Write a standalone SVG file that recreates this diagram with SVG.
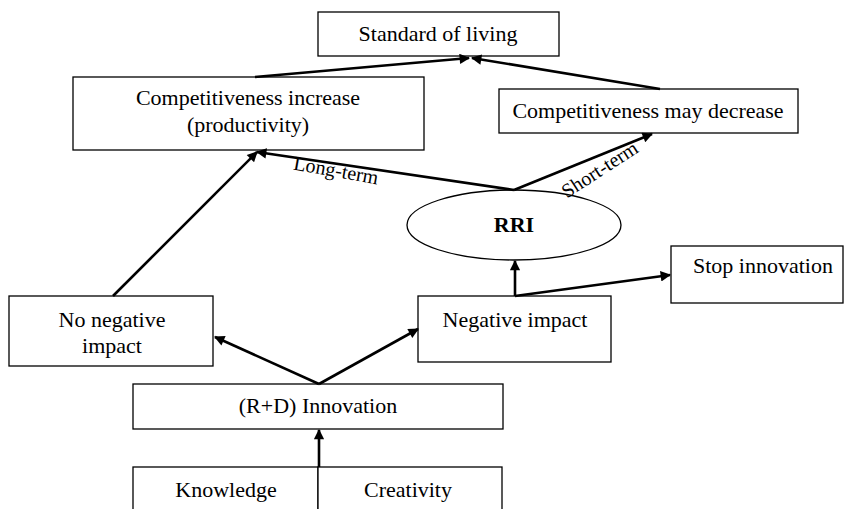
<svg xmlns="http://www.w3.org/2000/svg" width="845" height="509" viewBox="0 0 845 509">
<style>
.box{fill:#fff;stroke:#000;stroke-width:1.3}
.t{font-family:"Liberation Serif","Times New Roman",serif;font-size:22px;fill:#000;text-anchor:middle}
.s{font-size:20px}
.b{font-weight:bold}
.c{stroke:#000;stroke-width:2.6;fill:none;marker-end:url(#ah)}
</style>
<defs>
<marker id="ah" viewBox="0 0 10 10" refX="9" refY="5" markerWidth="5" markerHeight="4" orient="auto" markerUnits="strokeWidth">
<path d="M0,0 L10,5 L0,10 z" fill="#000"/>
</marker>
</defs>
<rect width="845" height="509" fill="#fff"/>
<g id="standard"><rect class="box" x="318" y="12" width="241" height="44"/><text class="t" x="438" y="41">Standard of living</text></g>
<g id="comp-inc"><rect class="box" x="73" y="77" width="351" height="73"/><text class="t" x="248" y="105">Competitiveness increase</text><text class="t" x="248" y="132">(productivity)</text></g>
<g id="comp-dec"><rect class="box" x="499" y="89" width="299" height="44"/><text class="t" x="648" y="118">Competitiveness may decrease</text></g>
<g id="rri"><ellipse class="box" cx="514" cy="225" rx="107" ry="35"/><text class="t b" x="514" y="232">RRI</text></g>
<g id="stop"><rect class="box" x="671" y="246" width="172" height="57"/><text class="t" x="763" y="273">Stop innovation</text></g>
<g id="neg"><rect class="box" x="418" y="296" width="193" height="66"/><text class="t" x="515" y="327">Negative impact</text></g>
<g id="noneg"><rect class="box" x="9" y="296" width="204" height="70"/><text class="t" x="112" y="327">No negative</text><text class="t" x="112" y="353">impact</text></g>
<g id="rd"><rect class="box" x="133" y="384" width="370" height="45"/><text class="t" x="318" y="413">(R+D) Innovation</text></g>
<g id="knowledge"><rect class="box" x="133" y="467" width="185" height="50"/><text class="t" x="226" y="497">Knowledge</text></g>
<g id="creativity"><rect class="box" x="318" y="467" width="184" height="50"/><text class="t" x="408" y="497">Creativity</text></g>
<g id="connectors">
<line class="c" x1="255" y1="77" x2="469" y2="58"/>
<line class="c" x1="660" y1="89" x2="472" y2="58"/>
<line class="c" x1="514" y1="190" x2="257" y2="152"/>
<line class="c" x1="514" y1="190" x2="652" y2="134"/>
<line class="c" x1="113" y1="296" x2="257" y2="152"/>
<line class="c" x1="319" y1="384" x2="215" y2="337"/>
<line class="c" x1="319" y1="384" x2="418" y2="329"/>
<line class="c" x1="319" y1="467" x2="319" y2="430"/>
<line class="c" x1="515" y1="296" x2="515" y2="261"/>
<line class="c" x1="515" y1="296" x2="670" y2="275"/>
<text class="t s" x="336" y="177" transform="rotate(10 336 171)">Long-term</text>
<text class="t s" x="600" y="176" transform="rotate(-33 600 170)">Short-term</text>
</g>
</svg>
